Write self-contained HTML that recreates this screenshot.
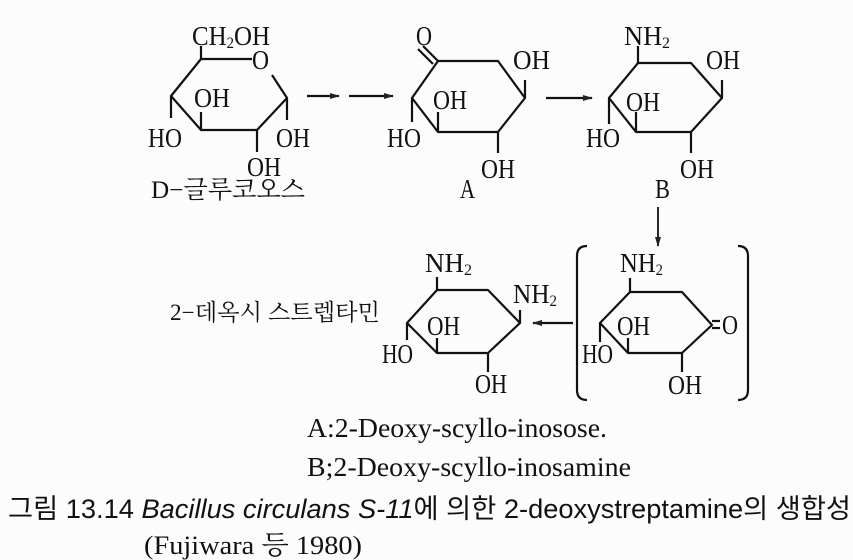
<!DOCTYPE html>
<html><head><meta charset="utf-8"><style>
html,body{margin:0;padding:0;background:#fff;}
svg{display:block;}
.t{font-family:"Liberation Serif",serif;font-size:27px;fill:#111;}
.s{font-size:16px;}
</style></head><body>
<svg width="853" height="560" viewBox="0 0 853 560" xmlns="http://www.w3.org/2000/svg">
<rect width="853" height="560" fill="#fcfcfc"/>
<defs><marker id="ah" markerWidth="10" markerHeight="8" refX="9" refY="4" orient="auto" markerUnits="userSpaceOnUse"><path d="M0,1 L10,4 L0,7 Z" fill="#222"/></marker></defs>
<g stroke="#111" stroke-width="2.2" fill="none" stroke-linejoin="round">
<polyline points="252,59 201,59 171,96 201,130 257,130 287,98 272,75"/>
<line x1="201" y1="59" x2="201" y2="46"/>
<line x1="171" y1="96" x2="171" y2="118"/>
<line x1="201" y1="130" x2="201" y2="112"/>
<line x1="287" y1="98" x2="287" y2="120"/>
<line x1="257" y1="130" x2="257" y2="152"/>
<polygon points="438,61 498,61 525,98 498,132 438,132 412,98"/>
<line x1="438" y1="61" x2="423" y2="46"/><line x1="433" y1="64" x2="418" y2="49"/>
<line x1="525" y1="98" x2="525" y2="80"/>
<line x1="412" y1="98" x2="412" y2="122"/>
<line x1="438" y1="132" x2="438" y2="112"/>
<line x1="498" y1="132" x2="498" y2="153"/>
<polygon points="638,63 691,63 722,98 691,132 636,132 609,98"/>
<line x1="638" y1="63" x2="638" y2="46"/>
<line x1="722" y1="98" x2="722" y2="80"/>
<line x1="609" y1="98" x2="609" y2="124"/>
<line x1="636" y1="132" x2="636" y2="112"/>
<line x1="691" y1="132" x2="691" y2="153"/>
<polygon points="437,290 488,290 520,323 488,353 437,353 407,323"/>
<line x1="437" y1="290" x2="437" y2="277"/>
<line x1="520" y1="323" x2="520" y2="310"/>
<line x1="407" y1="323" x2="407" y2="340"/>
<line x1="437" y1="353" x2="437" y2="338"/>
<line x1="488" y1="353" x2="488" y2="372"/>
<polygon points="630,292 682,292 712,325 682,353 628,353 600,323"/>
<line x1="630" y1="292" x2="630" y2="278"/>
<line x1="600" y1="323" x2="600" y2="342"/>
<line x1="628" y1="353" x2="628" y2="338"/>
<line x1="682" y1="353" x2="682" y2="372"/>
<line x1="712" y1="321" x2="720" y2="321"/><line x1="712" y1="328" x2="720" y2="328"/>
<path d="M587,246 Q577,246 577,256 L577,390 Q577,400 587,400"/>
<path d="M738,246 Q748,246 748,256 L748,390 Q748,400 738,400"/>
<line x1="307" y1="96" x2="339" y2="96" marker-end="url(#ah)"/>
<line x1="349" y1="96" x2="393" y2="96" marker-end="url(#ah)"/>
<line x1="546" y1="98" x2="592" y2="98" marker-end="url(#ah)"/>
<line x1="658" y1="207" x2="658" y2="246" stroke-width="1.8" marker-end="url(#ah)"/>
<line x1="573" y1="323" x2="533" y2="323" marker-end="url(#ah)"/>
</g>
<g class="t" lengthAdjust="spacingAndGlyphs">
<text x="192" y="45" textLength="78" lengthAdjust="spacingAndGlyphs">CH<tspan class="s" dy="3">2</tspan><tspan dy="-3">OH</tspan></text>
<text x="252" y="69" textLength="17" lengthAdjust="spacingAndGlyphs">O</text>
<text x="148" y="147" textLength="34" lengthAdjust="spacingAndGlyphs">HO</text>
<text x="194" y="107" textLength="36" lengthAdjust="spacingAndGlyphs">OH</text>
<text x="276" y="147" textLength="34" lengthAdjust="spacingAndGlyphs">OH</text>
<text x="247" y="176" textLength="34" lengthAdjust="spacingAndGlyphs">OH</text>
<text x="416" y="45" textLength="16" lengthAdjust="spacingAndGlyphs">O</text>
<text x="513" y="69" textLength="37" lengthAdjust="spacingAndGlyphs">OH</text>
<text x="387" y="147" textLength="34" lengthAdjust="spacingAndGlyphs">HO</text>
<text x="433" y="109" textLength="34" lengthAdjust="spacingAndGlyphs">OH</text>
<text x="481" y="178" textLength="34" lengthAdjust="spacingAndGlyphs">OH</text>
<text x="624" y="45" textLength="46" lengthAdjust="spacingAndGlyphs">NH<tspan class="s" dy="3">2</tspan></text>
<text x="706" y="69" textLength="34" lengthAdjust="spacingAndGlyphs">OH</text>
<text x="586" y="147" textLength="34" lengthAdjust="spacingAndGlyphs">HO</text>
<text x="626" y="111" textLength="34" lengthAdjust="spacingAndGlyphs">OH</text>
<text x="680" y="178" textLength="34" lengthAdjust="spacingAndGlyphs">OH</text>
<text x="425" y="272" textLength="47" lengthAdjust="spacingAndGlyphs">NH<tspan class="s" dy="3">2</tspan></text>
<text x="513" y="303" textLength="44" lengthAdjust="spacingAndGlyphs">NH<tspan class="s" dy="3">2</tspan></text>
<text x="382" y="363" textLength="31" lengthAdjust="spacingAndGlyphs">HO</text>
<text x="427" y="335" textLength="33" lengthAdjust="spacingAndGlyphs">OH</text>
<text x="475" y="393" textLength="32" lengthAdjust="spacingAndGlyphs">OH</text>
<text x="620" y="272" textLength="43" lengthAdjust="spacingAndGlyphs">NH<tspan class="s" dy="3">2</tspan></text>
<text x="722" y="334" textLength="16" lengthAdjust="spacingAndGlyphs">O</text>
<text x="582" y="363" textLength="31" lengthAdjust="spacingAndGlyphs">HO</text>
<text x="617" y="335" textLength="33" lengthAdjust="spacingAndGlyphs">OH</text>
<text x="668" y="394" textLength="34" lengthAdjust="spacingAndGlyphs">OH</text>
<text x="460" y="198" textLength="15" lengthAdjust="spacingAndGlyphs">A</text>
<text x="655" y="198" textLength="15" lengthAdjust="spacingAndGlyphs">B</text>
<text x="151" y="198" textLength="154" lengthAdjust="spacingAndGlyphs" style="font-family:'Liberation Serif','Noto Serif CJK SC','Noto Sans CJK KR',serif;font-size:25px">D−글루코오스</text>
<text x="170" y="320" textLength="210" lengthAdjust="spacingAndGlyphs" style="font-family:'Liberation Serif','Noto Serif CJK SC','Noto Sans CJK KR',serif;font-size:23px">2−데옥시 스트렙타민</text>
<text x="307" y="437" textLength="300" lengthAdjust="spacingAndGlyphs" style="font-size:27px">A:2-Deoxy-scyllo-inosose.</text>
<text x="307" y="476" textLength="324" lengthAdjust="spacingAndGlyphs" style="font-size:27px">B;2-Deoxy-scyllo-inosamine</text>
<text x="144" y="554" textLength="218" lengthAdjust="spacingAndGlyphs" style="font-family:'Liberation Serif','Noto Serif CJK SC','Noto Sans CJK KR',serif;font-size:26px">(Fujiwara 등 1980)</text>
</g>
<text x="8" y="518" textLength="843" lengthAdjust="spacingAndGlyphs" style="font-family:'Liberation Sans','Noto Sans CJK KR',sans-serif;font-size:27px;fill:#111">그림 13.14 <tspan font-style="italic">Bacillus circulans S-11</tspan>에 의한 2-deoxystreptamine의 생합성</text>
</svg>
</body></html>
